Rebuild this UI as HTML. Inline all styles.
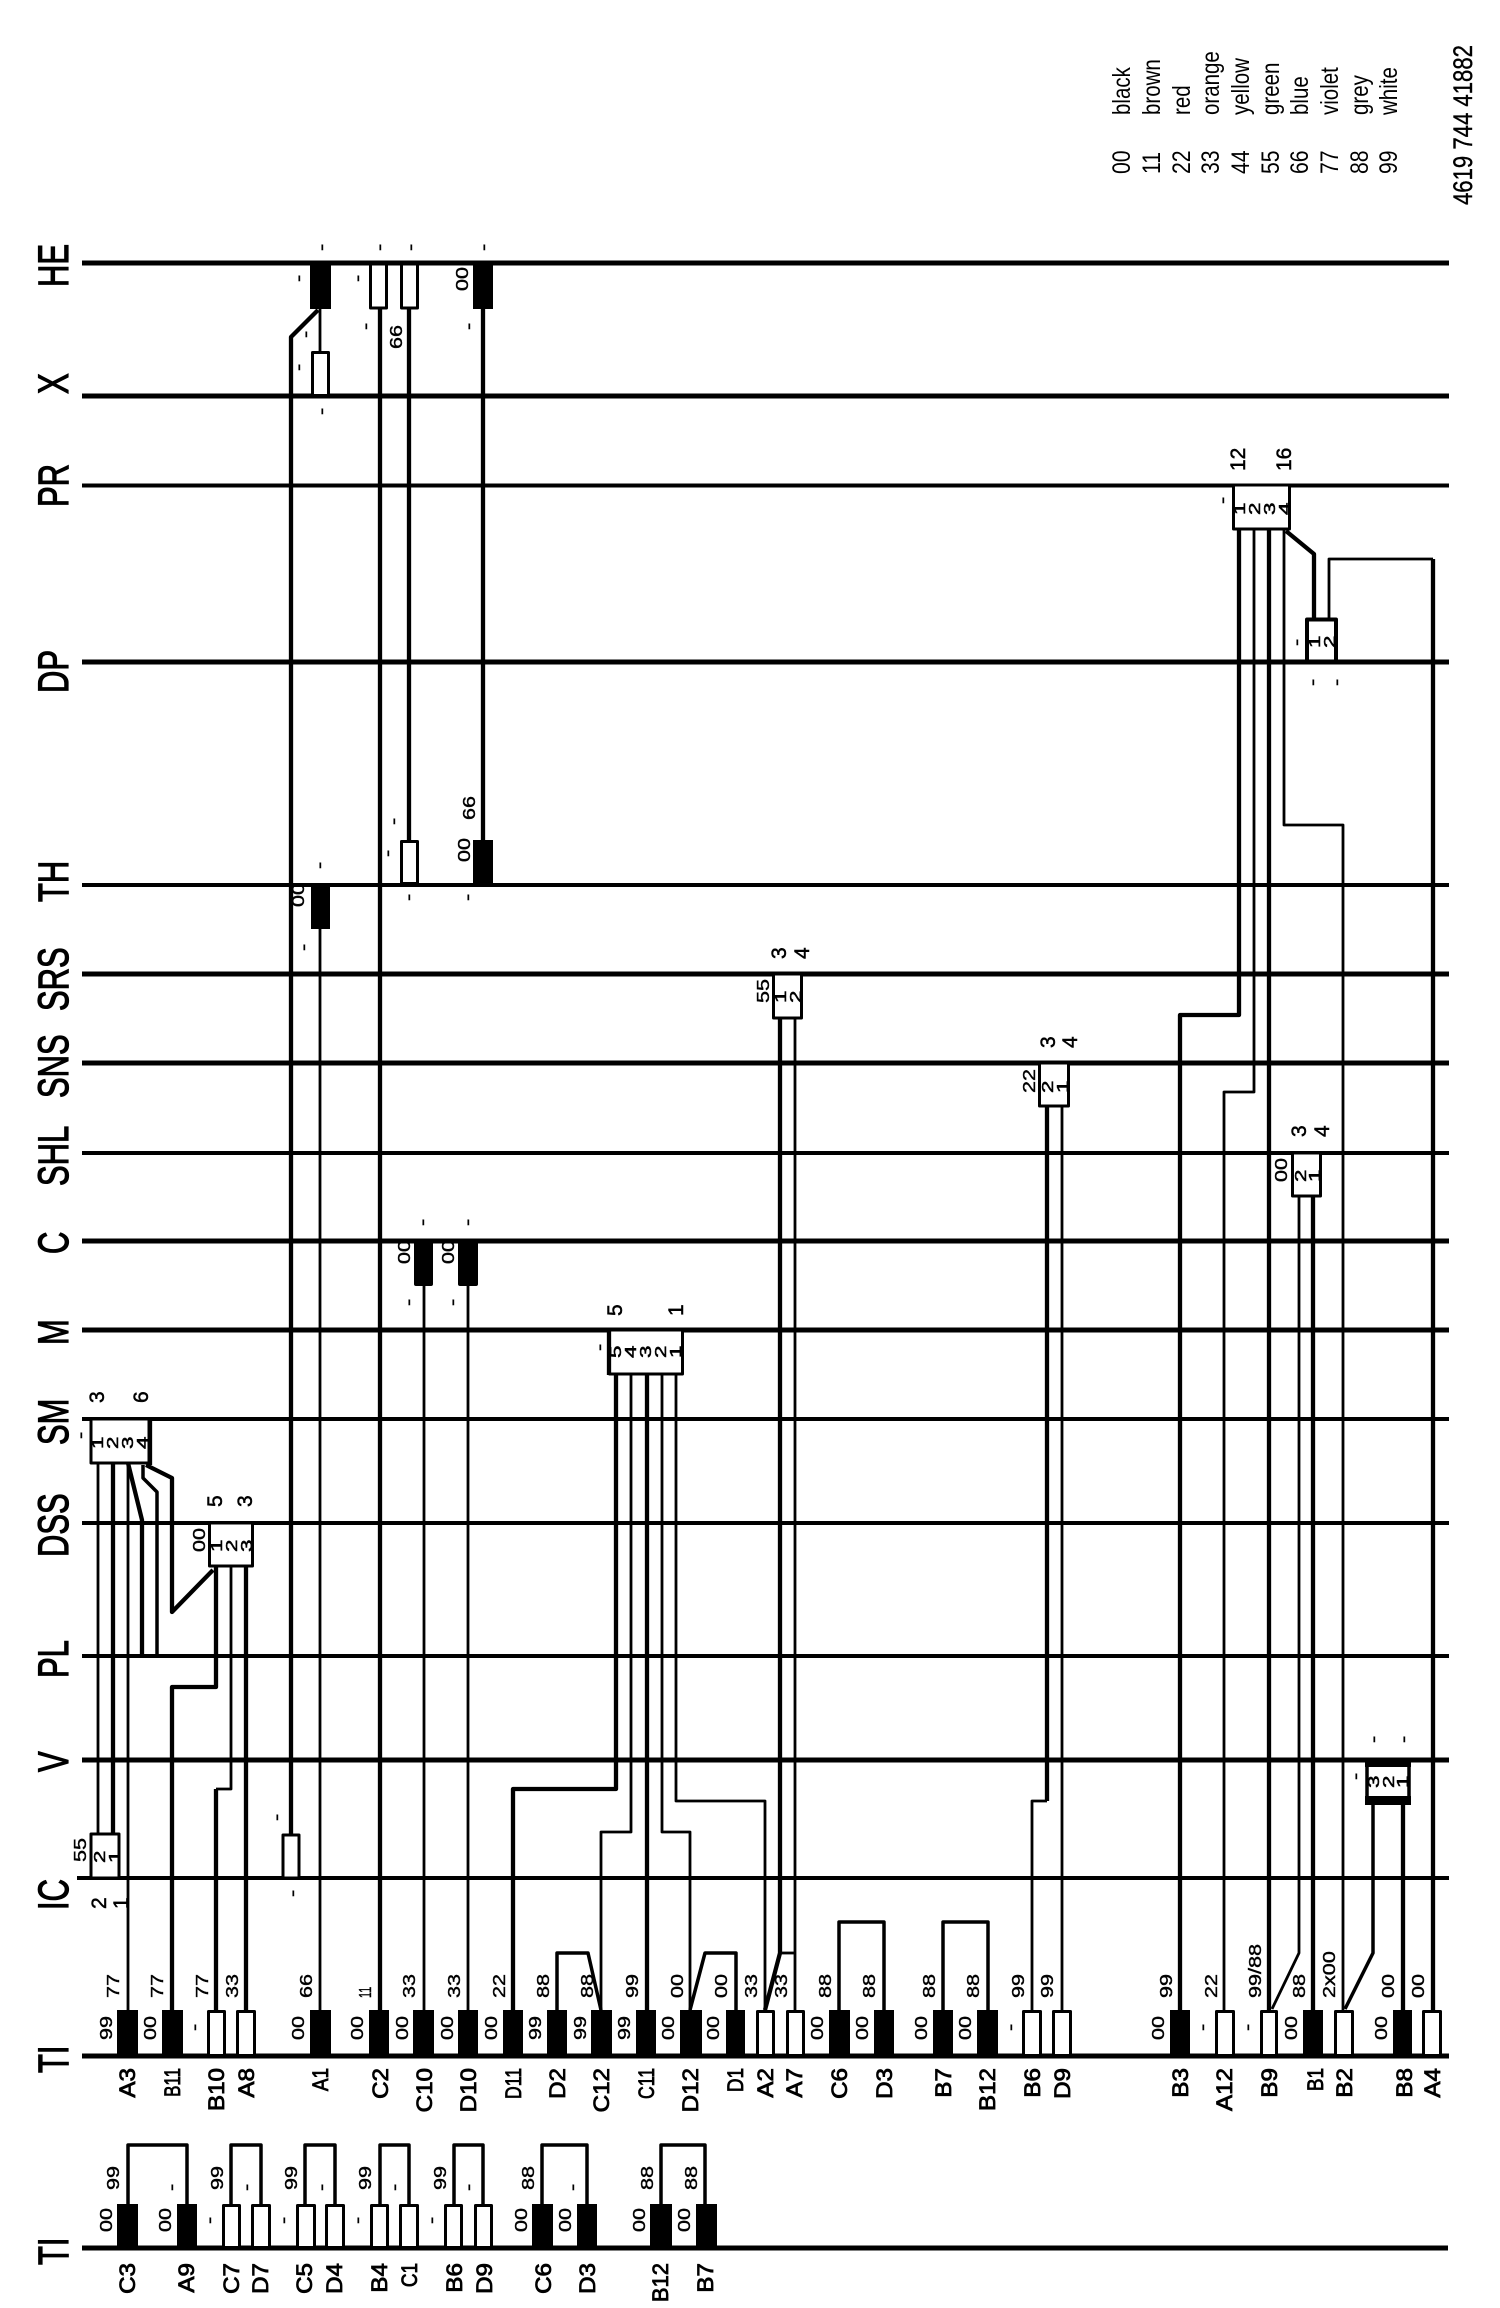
<!DOCTYPE html>
<html><head><meta charset="utf-8"><title>Wiring diagram</title>
<style>
html,body{margin:0;padding:0;background:#fff}
svg{display:block}
text{font-family:"Liberation Sans",sans-serif;fill:#000}
.a{font-size:43px;stroke:#000;stroke-width:1.2}
.b{font-size:22px;stroke:#000;stroke-width:.8}
.c{font-size:18px;stroke:#000;stroke-width:.4}
.d{font-size:16px;stroke:#000;stroke-width:.5}
.e{font-size:21px;stroke:#000;stroke-width:.5}
.l{font-size:25px}
.p{font-size:27px;stroke:#000;stroke-width:.4}
.h{stroke:#000;fill:none}
.w,.n,.m{fill:none;stroke:#000;stroke-linejoin:round}
.w{stroke-width:4.3}.n{stroke-width:2.8}.m{stroke-width:3.5}
.k{fill:#000}
.r{fill:#fff;stroke:#000;stroke-width:3;stroke-linejoin:round}
</style></head><body>
<svg xmlns="http://www.w3.org/2000/svg" width="1500" height="2308" viewBox="0 0 1500 2308">
<rect width="1500" height="2308" fill="#fff"/>
<!-- bus lines -->
<path class="h" stroke-width="5" d="M82 263H1449M82 396H1449M82 662H1449M82 974H1449M82 1063H1449M82 1241H1449M82 1330H1449M82 1760H1449M82 2056H1449M82 2248H1448"/>
<path class="h" stroke-width="4" d="M82 485.500H1449M82 885H1449M82 1153H1449M82 1419H1449M82 1523H1449M82 1656H1449M77 1878H1449"/>
<!-- wires -->
<polyline class="n" points="98,1463 98,1833"/>
<polyline class="w" points="113,1463 113,1833"/>
<polyline class="n" points="128,1463 128,2010"/>
<polyline class="w" points="128,1463 142,1520 142,1656"/>
<polyline class="m" points="143,1465 143,1478 157,1492 157,1656"/>
<polyline class="w" points="146,1465 172,1478 172,1612 213,1570"/>
<polyline class="w" points="216,1567 216,1687 172,1687 172,2010"/>
<polyline class="n" points="231,1567 231,1789 216,1789"/>
<polyline class="w" points="216,1789 216,2010"/>
<polyline class="w" points="246,1567 246,2010"/>
<polyline class="w" points="318,310 291,337 291,1834"/>
<polyline class="n" points="320,309 320,352"/>
<polyline class="w" points="380,308 380,2010"/>
<polyline class="w" points="409,308 409,840"/>
<polyline class="w" points="483,309 483,840"/>
<polyline class="n" points="320,929 320,2010"/>
<polyline class="n" points="424,1286 424,2010"/>
<polyline class="n" points="468,1286 468,2010"/>
<polyline class="w" points="616,1375 616,1789 513,1789 513,2010"/>
<polyline class="n" points="631,1375 631,1832 601,1832 601,2010"/>
<polyline class="w" points="647,1375 647,2010"/>
<polyline class="n" points="662,1375 662,1832 690,1832 690,2010"/>
<polyline class="n" points="676,1375 676,1801 765,1801 765,2010"/>
<polyline class="w" points="780,1019 780,1953 765,2010"/>
<polyline class="n" points="795,1019 795,2010"/>
<polyline class="n" points="780,1953 795,1953"/>
<polyline class="w" points="1047,1107 1047,1801"/>
<polyline class="n" points="1047,1801 1032,1801 1032,2010"/>
<polyline class="n" points="1062,1107 1062,2010"/>
<polyline class="n" points="1299,1197 1299,1953 1272,2009"/>
<polyline class="w" points="1313,1197 1313,2010"/>
<polyline class="m" points="1373,1805 1373,1953 1345,2009"/>
<polyline class="w" points="1403,1805 1403,2010"/>
<polyline class="w" points="1239,529 1239,1015 1180,1015 1180,2010"/>
<polyline class="n" points="1254,529 1254,1092 1224,1092 1224,2010"/>
<polyline class="w" points="1269,529 1269,2010"/>
<polyline class="n" points="1284,529 1284,825 1343,825 1343,2010"/>
<polyline class="w" points="1286,531 1314,554 1314,618"/>
<polyline class="n" points="1329,618 1329,559 1433,559"/>
<polyline class="w" points="1433,559 1433,2010"/>
<!-- bridges on TI row 1 -->
<polyline class="m" points="557,2010 557,1953 588,1953 601,2010"/>
<polyline class="m" points="690,2010 705,1953 736,1953 736,2010"/>
<polyline class="m" points="839,2010 839,1922 884,1922 884,2010"/>
<polyline class="m" points="943,2010 943,1922 988,1922 988,2010"/>
<!-- bridges on TI row 2 -->
<polyline class="m" points="128,2204 128,2145 187,2145 187,2204"/>
<polyline class="m" points="231,2204 231,2145 261,2145 261,2204"/>
<polyline class="m" points="305,2204 305,2145 335,2145 335,2204"/>
<polyline class="m" points="380,2204 380,2145 409,2145 409,2204"/>
<polyline class="m" points="454,2204 454,2145 483,2145 483,2204"/>
<polyline class="m" points="542,2204 542,2145 587,2145 587,2204"/>
<polyline class="m" points="661,2204 661,2145 705,2145 705,2204"/>
<!-- TI row 1 terminals -->
<rect class="k" x="117" y="2010" width="21" height="46"/>
<rect class="k" x="162" y="2010" width="21" height="46"/>
<rect class="r" x="208.500" y="2011.500" width="16" height="44"/>
<rect class="r" x="237.500" y="2011.500" width="17" height="44"/>
<rect class="k" x="310" y="2010" width="21" height="46"/>
<rect class="k" x="369" y="2010" width="20" height="46"/>
<rect class="k" x="413" y="2010" width="21" height="46"/>
<rect class="k" x="458" y="2010" width="20" height="46"/>
<rect class="k" x="503" y="2010" width="20" height="46"/>
<rect class="k" x="547" y="2010" width="20" height="46"/>
<rect class="k" x="591" y="2010" width="21" height="46"/>
<rect class="k" x="636" y="2010" width="20" height="46"/>
<rect class="k" x="680" y="2010" width="22" height="46"/>
<rect class="k" x="726" y="2010" width="19" height="46"/>
<rect class="r" x="757.500" y="2011.500" width="16" height="44"/>
<rect class="r" x="787.500" y="2011.500" width="16" height="44"/>
<rect class="k" x="829" y="2010" width="21" height="46"/>
<rect class="k" x="874" y="2010" width="20" height="46"/>
<rect class="k" x="933" y="2010" width="20" height="46"/>
<rect class="k" x="977" y="2010" width="21" height="46"/>
<rect class="r" x="1023.500" y="2011.500" width="17" height="44"/>
<rect class="r" x="1053.500" y="2011.500" width="17" height="44"/>
<rect class="k" x="1170" y="2010" width="20" height="46"/>
<rect class="r" x="1216.500" y="2011.500" width="17" height="44"/>
<rect class="r" x="1261.500" y="2011.500" width="15" height="44"/>
<rect class="k" x="1303" y="2010" width="20" height="46"/>
<rect class="r" x="1335.500" y="2011.500" width="17" height="44"/>
<rect class="k" x="1393" y="2010" width="19" height="46"/>
<rect class="r" x="1423.500" y="2011.500" width="17" height="44"/>
<!-- TI row 2 terminals -->
<rect class="k" x="117" y="2204" width="21" height="44"/>
<rect class="k" x="177" y="2204" width="20" height="44"/>
<rect class="r" x="223.500" y="2205.500" width="16" height="42"/>
<rect class="r" x="252.500" y="2205.500" width="17" height="42"/>
<rect class="r" x="297.500" y="2205.500" width="17" height="42"/>
<rect class="r" x="326.500" y="2205.500" width="17" height="42"/>
<rect class="r" x="371.500" y="2205.500" width="16" height="42"/>
<rect class="r" x="400.500" y="2205.500" width="17" height="42"/>
<rect class="r" x="445.500" y="2205.500" width="16" height="42"/>
<rect class="r" x="475.500" y="2205.500" width="16" height="42"/>
<rect class="k" x="532" y="2204" width="21" height="44"/>
<rect class="k" x="577" y="2204" width="20" height="44"/>
<rect class="k" x="650" y="2204" width="22" height="44"/>
<rect class="k" x="696" y="2204" width="21" height="44"/>
<!-- HE / X / TH / C terminals -->
<rect class="k" x="310" y="263" width="21" height="46"/>
<rect class="r" x="370.500" y="264" width="16" height="44"/>
<rect class="r" x="401.500" y="264" width="16" height="44"/>
<rect class="k" x="473" y="263" width="20" height="46"/>
<rect class="r" x="312.500" y="352.500" width="16" height="43"/>
<rect class="r" x="401.500" y="841.500" width="16" height="42"/>
<rect class="k" x="473" y="840" width="20" height="44"/>
<rect class="k" x="311" y="884" width="19" height="45"/>
<rect class="k" x="414" y="1241" width="19" height="45" rx="2"/>
<rect class="k" x="458" y="1241" width="20" height="45" rx="2"/>
<!-- connector housings -->
<rect class="r" x="91" y="1419" width="58" height="44" stroke-width="2.500"/>
<rect class="r" x="209.500" y="1523" width="43" height="43"/>
<rect class="r" x="91" y="1834" width="28" height="44"/>
<rect class="r" x="283" y="1835" width="16" height="43"/>
<rect class="r" x="609.500" y="1330" width="73" height="44"/>
<rect class="r" x="773.500" y="974" width="28" height="44"/>
<rect class="r" x="1039.500" y="1063" width="29" height="43"/>
<rect class="r" x="1292.500" y="1153" width="28" height="43"/>
<rect class="r" x="1233.500" y="485" width="56" height="44"/>
<rect class="r" x="1307" y="619.500" width="29" height="42" style="stroke-width:4"/>
<rect x="1367" y="1760" width="42" height="43" fill="#fff" stroke="#000" stroke-width="3.500"/>
<path class="k" d="M1365 1760H1411V1767H1365ZM1365 1796H1411V1805H1365Z"/>
<path class="w" d="M150 1419V1465M609 1330V1375"/>
<!-- bus labels -->
<text class="a" transform="matrix(0,-.72,1,0,68,287)">HE</text>
<text class="a" transform="matrix(0,-.72,1,0,68,394)">X</text>
<text class="a" transform="matrix(0,-.72,1,0,68,507)">PR</text>
<text class="a" transform="matrix(0,-.72,1,0,68,693)">DP</text>
<text class="a" transform="matrix(0,-.72,1,0,68,902)">TH</text>
<text class="a" transform="matrix(0,-.72,1,0,68,1011)">SRS</text>
<text class="a" transform="matrix(0,-.72,1,0,68,1098)">SNS</text>
<text class="a" transform="matrix(0,-.72,1,0,68,1186)">SHL</text>
<text class="a" transform="matrix(0,-.72,1,0,68,1254)">C</text>
<text class="a" transform="matrix(0,-.72,1,0,68,1345)">M</text>
<text class="a" transform="matrix(0,-.72,1,0,68,1445)">SM</text>
<text class="a" transform="matrix(0,-.72,1,0,68,1557)">DSS</text>
<text class="a" transform="matrix(0,-.72,1,0,68,1678)">PL</text>
<text class="a" transform="matrix(0,-.72,1,0,68,1772)">V</text>
<text class="a" transform="matrix(0,-.72,1,0,68,1910)">IC</text>
<text class="a" transform="matrix(0,-.72,1,0,68,2073)">TI</text>
<text class="a" transform="matrix(0,-.72,1,0,68,2265)">TI</text>
<!-- pin ids TI row 1 -->
<g text-anchor="end">
<text class="b" transform="matrix(0,-1.1,1,0,135,2068)">A3</text>
<text class="b" transform="matrix(0,-.77,1,0,180,2068)">B11</text>
<text class="b" transform="matrix(0,-1.1,1,0,224,2068)">B10</text>
<text class="b" transform="matrix(0,-1.1,1,0,254,2068)">A8</text>
<text class="b" transform="matrix(0,-.86,1,0,328,2068)">A1</text>
<text class="b" transform="matrix(0,-1.1,1,0,388,2068)">C2</text>
<text class="b" transform="matrix(0,-1.1,1,0,432,2068)">C10</text>
<text class="b" transform="matrix(0,-1.1,1,0,476,2068)">D10</text>
<text class="b" transform="matrix(0,-.8,1,0,521,2068)">D11</text>
<text class="b" transform="matrix(0,-1.1,1,0,565,2068)">D2</text>
<text class="b" transform="matrix(0,-1.1,1,0,609,2068)">C12</text>
<text class="b" transform="matrix(0,-.8,1,0,654,2068)">C11</text>
<text class="b" transform="matrix(0,-1.1,1,0,698,2068)">D12</text>
<text class="b" transform="matrix(0,-.86,1,0,743,2068)">D1</text>
<text class="b" transform="matrix(0,-1.1,1,0,773,2068)">A2</text>
<text class="b" transform="matrix(0,-1.1,1,0,802,2068)">A7</text>
<text class="b" transform="matrix(0,-1.1,1,0,847,2068)">C6</text>
<text class="b" transform="matrix(0,-1.1,1,0,892,2068)">D3</text>
<text class="b" transform="matrix(0,-1.1,1,0,951,2068)">B7</text>
<text class="b" transform="matrix(0,-1.1,1,0,995,2068)">B12</text>
<text class="b" transform="matrix(0,-1.1,1,0,1040,2068)">B6</text>
<text class="b" transform="matrix(0,-1.1,1,0,1070,2068)">D9</text>
<text class="b" transform="matrix(0,-1.1,1,0,1188,2068)">B3</text>
<text class="b" transform="matrix(0,-1.1,1,0,1232,2068)">A12</text>
<text class="b" transform="matrix(0,-1.1,1,0,1277,2068)">B9</text>
<text class="b" transform="matrix(0,-.86,1,0,1323,2068)">B1</text>
<text class="b" transform="matrix(0,-1.1,1,0,1352,2068)">B2</text>
<text class="b" transform="matrix(0,-1.1,1,0,1412,2068)">B8</text>
<text class="b" transform="matrix(0,-1.1,1,0,1440,2068)">A4</text>
<!-- pin ids TI row 2 -->
<text class="b" transform="matrix(0,-1.1,1,0,135,2263)">C3</text>
<text class="b" transform="matrix(0,-1.1,1,0,194,2263)">A9</text>
<text class="b" transform="matrix(0,-1.1,1,0,239,2263)">C7</text>
<text class="b" transform="matrix(0,-1.1,1,0,268,2263)">D7</text>
<text class="b" transform="matrix(0,-1.1,1,0,312,2263)">C5</text>
<text class="b" transform="matrix(0,-1.1,1,0,342,2263)">D4</text>
<text class="b" transform="matrix(0,-1.1,1,0,387,2263)">B4</text>
<text class="b" transform="matrix(0,-.86,1,0,417,2263)">C1</text>
<text class="b" transform="matrix(0,-1.1,1,0,462,2263)">B6</text>
<text class="b" transform="matrix(0,-1.1,1,0,492,2263)">D9</text>
<text class="b" transform="matrix(0,-1.1,1,0,551,2263)">C6</text>
<text class="b" transform="matrix(0,-1.1,1,0,595,2263)">D3</text>
<text class="b" transform="matrix(0,-1,1,0,668,2263)">B12</text>
<text class="b" transform="matrix(0,-1.1,1,0,713,2263)">B7</text>
</g>
<!-- colour codes row 1 upper -->
<text class="c" transform="matrix(0,-1.2,1,0,119,1998)">77</text>
<text class="c" transform="matrix(0,-1.2,1,0,163,1998)">77</text>
<text class="c" transform="matrix(0,-1.2,1,0,208,1998)">77</text>
<text class="c" transform="matrix(0,-1.2,1,0,238,1998)">33</text>
<text class="c" transform="matrix(0,-1.2,1,0,312,1998)">66</text>
<text class="c" transform="matrix(0,-.6,1,0,371,1998)">11</text>
<text class="c" transform="matrix(0,-1.2,1,0,415,1998)">33</text>
<text class="c" transform="matrix(0,-1.2,1,0,460,1998)">33</text>
<text class="c" transform="matrix(0,-1.2,1,0,505,1998)">22</text>
<text class="c" transform="matrix(0,-1.2,1,0,549,1998)">88</text>
<text class="c" transform="matrix(0,-1.2,1,0,593,1998)">88</text>
<text class="c" transform="matrix(0,-1.2,1,0,638,1998)">99</text>
<text class="c" transform="matrix(0,-1.2,1,0,683,1998)">00</text>
<text class="c" transform="matrix(0,-1.2,1,0,727,1998)">00</text>
<text class="c" transform="matrix(0,-1.2,1,0,757,1998)">33</text>
<text class="c" transform="matrix(0,-1.2,1,0,787,1998)">33</text>
<text class="c" transform="matrix(0,-1.2,1,0,831,1998)">88</text>
<text class="c" transform="matrix(0,-1.2,1,0,875,1998)">88</text>
<text class="c" transform="matrix(0,-1.2,1,0,935,1998)">88</text>
<text class="c" transform="matrix(0,-1.2,1,0,979,1998)">88</text>
<text class="c" transform="matrix(0,-1.2,1,0,1024,1998)">99</text>
<text class="c" transform="matrix(0,-1.2,1,0,1053,1998)">99</text>
<text class="c" transform="matrix(0,-1.2,1,0,1172,1998)">99</text>
<text class="c" transform="matrix(0,-1.2,1,0,1217,1998)">22</text>
<text class="c" transform="matrix(0,-1.2,1,0,1261,1998)">99/88</text>
<text class="c" transform="matrix(0,-1.2,1,0,1305,1998)">88</text>
<text class="c" transform="matrix(0,-1.2,1,0,1335,1998)">2x00</text>
<text class="c" transform="matrix(0,-1.2,1,0,1394,1998)">00</text>
<text class="c" transform="matrix(0,-1.2,1,0,1424,1998)">00</text>
<!-- colour codes row 1 lower -->
<text class="c" transform="matrix(0,-1.2,1,0,112,2040)">99</text>
<text class="c" transform="matrix(0,-1.2,1,0,156,2040)">00</text>
<text class="c" transform="matrix(0,-1.2,1,0,200,2031)">-</text>
<text class="c" transform="matrix(0,-1.2,1,0,304,2040)">00</text>
<text class="c" transform="matrix(0,-1.2,1,0,363,2040)">00</text>
<text class="c" transform="matrix(0,-1.2,1,0,408,2040)">00</text>
<text class="c" transform="matrix(0,-1.2,1,0,453,2040)">00</text>
<text class="c" transform="matrix(0,-1.2,1,0,497,2040)">00</text>
<text class="c" transform="matrix(0,-1.2,1,0,541,2040)">99</text>
<text class="c" transform="matrix(0,-1.2,1,0,586,2040)">99</text>
<text class="c" transform="matrix(0,-1.2,1,0,630,2040)">99</text>
<text class="c" transform="matrix(0,-1.2,1,0,674,2040)">00</text>
<text class="c" transform="matrix(0,-1.2,1,0,719,2040)">00</text>
<text class="c" transform="matrix(0,-1.2,1,0,823,2040)">00</text>
<text class="c" transform="matrix(0,-1.2,1,0,868,2040)">00</text>
<text class="c" transform="matrix(0,-1.2,1,0,927,2040)">00</text>
<text class="c" transform="matrix(0,-1.2,1,0,971,2040)">00</text>
<text class="c" transform="matrix(0,-1.2,1,0,1016,2031)">-</text>
<text class="c" transform="matrix(0,-1.2,1,0,1164,2040)">00</text>
<text class="c" transform="matrix(0,-1.2,1,0,1208,2031)">-</text>
<text class="c" transform="matrix(0,-1.2,1,0,1253,2031)">-</text>
<text class="c" transform="matrix(0,-1.2,1,0,1297,2040)">00</text>
<text class="c" transform="matrix(0,-1.2,1,0,1387,2040)">00</text>
<!-- colour codes row 2 upper -->
<text class="c" transform="matrix(0,-1.2,1,0,119,2190)">99</text>
<text class="c" transform="matrix(0,-1.2,1,0,177,2191)">-</text>
<text class="c" transform="matrix(0,-1.2,1,0,223,2190)">99</text>
<text class="c" transform="matrix(0,-1.2,1,0,252,2191)">-</text>
<text class="c" transform="matrix(0,-1.2,1,0,297,2190)">99</text>
<text class="c" transform="matrix(0,-1.2,1,0,327,2191)">-</text>
<text class="c" transform="matrix(0,-1.2,1,0,371,2190)">99</text>
<text class="c" transform="matrix(0,-1.2,1,0,400,2191)">-</text>
<text class="c" transform="matrix(0,-1.2,1,0,446,2190)">99</text>
<text class="c" transform="matrix(0,-1.2,1,0,474,2191)">-</text>
<text class="c" transform="matrix(0,-1.2,1,0,534,2190)">88</text>
<text class="c" transform="matrix(0,-1.2,1,0,578,2191)">-</text>
<text class="c" transform="matrix(0,-1.2,1,0,653,2190)">88</text>
<text class="c" transform="matrix(0,-1.2,1,0,697,2190)">88</text>
<!-- colour codes row 2 lower -->
<text class="c" transform="matrix(0,-1.2,1,0,112,2232)">00</text>
<text class="c" transform="matrix(0,-1.2,1,0,171,2232)">00</text>
<text class="c" transform="matrix(0,-1.2,1,0,215,2224)">-</text>
<text class="c" transform="matrix(0,-1.2,1,0,289,2224)">-</text>
<text class="c" transform="matrix(0,-1.2,1,0,363,2224)">-</text>
<text class="c" transform="matrix(0,-1.2,1,0,437,2224)">-</text>
<text class="c" transform="matrix(0,-1.2,1,0,527,2232)">00</text>
<text class="c" transform="matrix(0,-1.2,1,0,571,2232)">00</text>
<text class="c" transform="matrix(0,-1.2,1,0,645,2232)">00</text>
<text class="c" transform="matrix(0,-1.2,1,0,690,2232)">00</text>
<!-- HE / TH / C region labels -->
<text class="c" transform="matrix(0,-1.2,1,0,468,291)">00</text>
<text class="c" transform="matrix(0,-1.2,1,0,402,349)">66</text>
<text class="c" transform="matrix(0,-1.2,1,0,327,251)">-</text>
<text class="c" transform="matrix(0,-1.2,1,0,385,251)">-</text>
<text class="c" transform="matrix(0,-1.2,1,0,416,251)">-</text>
<text class="c" transform="matrix(0,-1.2,1,0,489,251)">-</text>
<text class="c" transform="matrix(0,-1.2,1,0,304,282)">-</text>
<text class="c" transform="matrix(0,-1.2,1,0,363,282)">-</text>
<text class="c" transform="matrix(0,-1.2,1,0,311,338)">-</text>
<text class="c" transform="matrix(0,-1.2,1,0,304,371)">-</text>
<text class="c" transform="matrix(0,-1.2,1,0,371,330)">-</text>
<text class="c" transform="matrix(0,-1.2,1,0,474,330)">-</text>
<text class="c" transform="matrix(0,-1.2,1,0,327,415)">-</text>
<text class="c" transform="matrix(0,-1.2,1,0,475,820)">66</text>
<text class="c" transform="matrix(0,-1.2,1,0,470,862)">00</text>
<text class="c" transform="matrix(0,-1.2,1,0,399,825)">-</text>
<text class="c" transform="matrix(0,-1.2,1,0,393,857)">-</text>
<text class="c" transform="matrix(0,-1.2,1,0,414,901)">-</text>
<text class="c" transform="matrix(0,-1.2,1,0,473,901)">-</text>
<text class="c" transform="matrix(0,-1.2,1,0,325,869)">-</text>
<text class="c" transform="matrix(0,-1.2,1,0,304,907)">00</text>
<text class="c" transform="matrix(0,-1.2,1,0,309,951)">-</text>
<text class="c" transform="matrix(0,-1.2,1,0,410,1264)">00</text>
<text class="c" transform="matrix(0,-1.2,1,0,454,1264)">00</text>
<text class="c" transform="matrix(0,-1.2,1,0,428,1226)">-</text>
<text class="c" transform="matrix(0,-1.2,1,0,473,1226)">-</text>
<text class="c" transform="matrix(0,-1.2,1,0,414,1306)">-</text>
<text class="c" transform="matrix(0,-1.2,1,0,458,1306)">-</text>
<!-- SM -->
<text class="e" transform="matrix(0,-1,1,0,104,1403)">3</text>
<text class="e" transform="matrix(0,-1,1,0,148,1403)">6</text>
<text class="c" transform="matrix(0,-1.2,1,0,86,1439)">-</text>
<text class="d" transform="matrix(0,-1.4,1,0,103,1449)">1</text>
<text class="d" transform="matrix(0,-1.4,1,0,118,1449)">2</text>
<text class="d" transform="matrix(0,-1.4,1,0,133,1449)">3</text>
<text class="d" transform="matrix(0,-1.4,1,0,148,1449)">4</text>
<!-- DSS -->
<text class="e" transform="matrix(0,-1,1,0,222,1507)">5</text>
<text class="e" transform="matrix(0,-1,1,0,252,1507)">3</text>
<text class="c" transform="matrix(0,-1.2,1,0,205,1552)">00</text>
<text class="d" transform="matrix(0,-1.4,1,0,222,1552)">1</text>
<text class="d" transform="matrix(0,-1.4,1,0,237,1552)">2</text>
<text class="d" transform="matrix(0,-1.4,1,0,252,1552)">3</text>
<!-- IC -->
<text class="c" transform="matrix(0,-1.2,1,0,86,1862)">55</text>
<text class="d" transform="matrix(0,-1.4,1,0,105,1863)">2</text>
<text class="d" transform="matrix(0,-1.4,1,0,120,1863)">1</text>
<text class="e" transform="matrix(0,-1,1,0,106,1909)">2</text>
<text class="e" transform="matrix(0,-1,1,0,128,1909)">1</text>
<text class="c" transform="matrix(0,-1.2,1,0,282,1821)">-</text>
<text class="c" transform="matrix(0,-1.2,1,0,298,1897)">-</text>
<!-- M -->
<text class="e" transform="matrix(0,-1,1,0,622,1316)">5</text>
<text class="e" transform="matrix(0,-1,1,0,683,1316)">1</text>
<text class="c" transform="matrix(0,-1.2,1,0,605,1351)">-</text>
<text class="d" transform="matrix(0,-1.4,1,0,621,1358)">5</text>
<text class="d" transform="matrix(0,-1.4,1,0,636,1358)">4</text>
<text class="d" transform="matrix(0,-1.4,1,0,651,1358)">3</text>
<text class="d" transform="matrix(0,-1.4,1,0,666,1358)">2</text>
<text class="d" transform="matrix(0,-1.4,1,0,681,1358)">1</text>
<!-- SRS -->
<text class="e" transform="matrix(0,-1,1,0,786,959)">3</text>
<text class="e" transform="matrix(0,-1,1,0,809,959)">4</text>
<text class="c" transform="matrix(0,-1.2,1,0,769,1003)">55</text>
<text class="d" transform="matrix(0,-1.4,1,0,786,1003)">1</text>
<text class="d" transform="matrix(0,-1.4,1,0,801,1003)">2</text>
<!-- SNS -->
<text class="e" transform="matrix(0,-1,1,0,1055,1048)">3</text>
<text class="e" transform="matrix(0,-1,1,0,1077,1048)">4</text>
<text class="c" transform="matrix(0,-1.2,1,0,1035,1093)">22</text>
<text class="d" transform="matrix(0,-1.4,1,0,1053,1093)">2</text>
<text class="d" transform="matrix(0,-1.4,1,0,1068,1093)">1</text>
<!-- SHL -->
<text class="e" transform="matrix(0,-1,1,0,1306,1137)">3</text>
<text class="e" transform="matrix(0,-1,1,0,1329,1137)">4</text>
<text class="c" transform="matrix(0,-1.2,1,0,1287,1182)">00</text>
<text class="d" transform="matrix(0,-1.4,1,0,1306,1182)">2</text>
<text class="d" transform="matrix(0,-1.4,1,0,1320,1182)">1</text>
<!-- V -->
<text class="c" transform="matrix(0,-1.2,1,0,1361,1780)">-</text>
<text class="c" transform="matrix(0,-1.2,1,0,1379,1743)">-</text>
<text class="c" transform="matrix(0,-1.2,1,0,1409,1743)">-</text>
<text class="d" transform="matrix(0,-1.4,1,0,1379,1788)">3</text>
<text class="d" transform="matrix(0,-1.4,1,0,1394,1788)">2</text>
<text class="d" transform="matrix(0,-1.4,1,0,1408,1788)">1</text>
<!-- PR -->
<text class="e" transform="matrix(0,-1,1,0,1245,471)">12</text>
<text class="e" transform="matrix(0,-1,1,0,1291,471)">16</text>
<text class="c" transform="matrix(0,-1.2,1,0,1228,504)">-</text>
<text class="d" transform="matrix(0,-1.4,1,0,1245,515)">1</text>
<text class="d" transform="matrix(0,-1.4,1,0,1260,515)">2</text>
<text class="d" transform="matrix(0,-1.4,1,0,1275,515)">3</text>
<text class="d" transform="matrix(0,-1.4,1,0,1290,515)">4</text>
<!-- DP -->
<text class="c" transform="matrix(0,-1.2,1,0,1302,646)">-</text>
<text class="d" transform="matrix(0,-1.4,1,0,1320,648)">1</text>
<text class="d" transform="matrix(0,-1.4,1,0,1335,648)">2</text>
<text class="c" transform="matrix(0,-1.2,1,0,1318,686)">-</text>
<text class="c" transform="matrix(0,-1.2,1,0,1342,686)">-</text>
<!-- legend -->
<text class="l" transform="matrix(0,-.85,1,0,1130,174)">00</text>
<text class="l" transform="matrix(0,-.85,1,0,1160,174)">11</text>
<text class="l" transform="matrix(0,-.85,1,0,1190,174)">22</text>
<text class="l" transform="matrix(0,-.85,1,0,1219,174)">33</text>
<text class="l" transform="matrix(0,-.85,1,0,1249,174)">44</text>
<text class="l" transform="matrix(0,-.85,1,0,1279,174)">55</text>
<text class="l" transform="matrix(0,-.85,1,0,1308,174)">66</text>
<text class="l" transform="matrix(0,-.85,1,0,1338,174)">77</text>
<text class="l" transform="matrix(0,-.85,1,0,1368,174)">88</text>
<text class="l" transform="matrix(0,-.85,1,0,1397,174)">99</text>
<text class="l" transform="matrix(0,-.82,1,0,1130,115)">black</text>
<text class="l" transform="matrix(0,-.82,1,0,1160,115)">brown</text>
<text class="l" transform="matrix(0,-.82,1,0,1190,115)">red</text>
<text class="l" transform="matrix(0,-.82,1,0,1219,115)">orange</text>
<text class="l" transform="matrix(0,-.82,1,0,1249,115)">yellow</text>
<text class="l" transform="matrix(0,-.82,1,0,1279,115)">green</text>
<text class="l" transform="matrix(0,-.82,1,0,1308,115)">blue</text>
<text class="l" transform="matrix(0,-.82,1,0,1338,115)">violet</text>
<text class="l" transform="matrix(0,-.82,1,0,1368,115)">grey</text>
<text class="l" transform="matrix(0,-.82,1,0,1397,115)">white</text>
<text class="p" transform="matrix(0,-.82,1,0,1472,205)">4619 744 41882</text>
</svg>
</body></html>
